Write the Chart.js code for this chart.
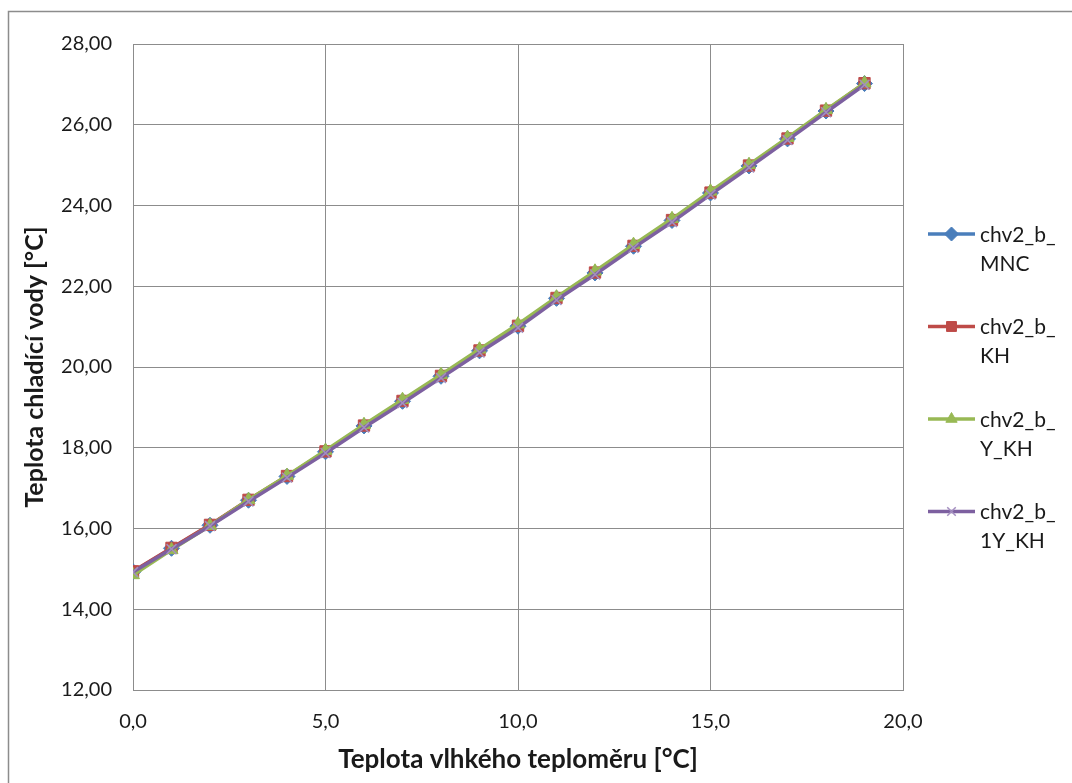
<!DOCTYPE html>
<html>
<head>
<meta charset="utf-8">
<script src="https://cdn.jsdelivr.net/npm/chart.js@4.4.1/dist/chart.umd.min.js"></script>
<style>
  html, body { margin: 0; padding: 0; background: #fff; }
  #wrap { width: 1072px; height: 783px; position: relative; }
</style>
</head>
<body>
<div id="wrap"><canvas id="chart" width="1072" height="783"></canvas></div>
<script>
// Wet-bulb temperature (x) vs. cooling water temperature (y)
const xValues = [0, 1, 2, 3, 4, 5, 6, 7, 8, 9, 10, 11, 12, 13, 14, 15, 16, 17, 18, 19];
const mncValues = [14.93, 15.51, 16.08, 16.70, 17.29, 17.90, 18.54, 19.15, 19.77, 20.40,
                   21.01, 21.70, 22.33, 22.99, 23.63, 24.31, 24.98, 25.65, 26.34, 27.02];
const khValues = [14.94, 15.52, 16.09, 16.71, 17.30, 17.91, 18.55, 19.16, 19.78, 20.41,
                  21.02, 21.71, 22.34, 23.00, 23.64, 24.32, 24.99, 25.66, 26.35, 27.03];
const yKhValues = [14.85, 15.47, 16.07, 16.71, 17.31, 17.93, 18.57, 19.19, 19.81, 20.44,
                   21.06, 21.73, 22.37, 23.03, 23.67, 24.35, 25.01, 25.68, 26.37, 27.03];
const oneYKhValues = [14.92, 15.49, 16.06, 16.67, 17.26, 17.87, 18.50, 19.11, 19.73, 20.36,
                      20.97, 21.66, 22.29, 22.95, 23.59, 24.27, 24.94, 25.62, 26.31, 26.99];
const seriesNames = [['chv2_b_', 'MNC'], ['chv2_b_', 'KH'], ['chv2_b_', 'Y_KH'], ['chv2_b_', '1Y_KH']];
const xTitle = 'Teplota vlhkého teploměru [°C]';
const yTitle = 'Teplota chladící vody [°C]';

const FONT = 'Lato, "Open Sans", sans-serif';
const GRID = '#8c8c8c';
const TEXT = '#1a1a1a';

function pts(ys) {
    return xValues.map((x, i) => ({ x: x, y: ys[i] }));
}

const styles = [
    { color: '#4a7ebb', point: 'rectRot', radius: 8, bw: 1 },
    { color: '#be4b48', point: 'rect', radius: 8, bw: 1 },
    { color: '#98b954', point: 'triangle', radius: 7.5, bw: 1 },
    { color: '#7d60a0', point: 'crossRot', radius: 7, bw: 1.5 }
];
const seriesValues = [mncValues, khValues, yKhValues, oneYKhValues];

const datasets = seriesValues.map((vals, i) => ({
    label: seriesNames[i].join(''),
    data: pts(vals),
    borderColor: styles[i].color,
    backgroundColor: styles[i].color,
    pointStyle: styles[i].point,
    pointRadius: styles[i].radius,
    pointBorderWidth: styles[i].bw,
    pointBorderColor: i === 3 ? '#a48fc0' : styles[i].color,
    borderWidth: 3.5,
    tension: 0,
    order: 3 - i   // later series on top, as in the original
}));

// Frame around the whole chart
const framePlugin = {
    id: 'frame',
    beforeDraw(chart) {
        const ctx = chart.ctx;
        ctx.save();
        ctx.fillStyle = '#fff';
        ctx.fillRect(0, 0, chart.width, chart.height);
        ctx.strokeStyle = GRID;
        ctx.lineWidth = 1.5;
        ctx.strokeRect(8.5, 11.5, chart.width + 10, chart.height + 10);
        ctx.restore();
    }
};

// Legend on the right with two-line labels
const sideLegend = {
    id: 'sideLegend',
    afterDraw(chart) {
        const ctx = chart.ctx;
        const x0 = chart.chartArea.right + 25;
        const x1 = x0 + 47;
        ctx.save();
        chart.data.datasets.forEach((ds, i) => {
            const y = 234 + i * 92.5;
            ctx.strokeStyle = ds.borderColor;
            ctx.lineWidth = 3.5;
            ctx.beginPath();
            ctx.moveTo(x0, y);
            ctx.lineTo(x1, y);
            ctx.stroke();
            ctx.fillStyle = ds.backgroundColor;
            ctx.strokeStyle = ds.pointBorderColor;
            ctx.lineWidth = ds.pointBorderWidth;
            Chart.helpers.drawPoint(ctx, {
                pointStyle: ds.pointStyle, radius: ds.pointRadius - 1, rotation: 0, borderWidth: ds.pointBorderWidth
            }, (x0 + x1) / 2, y);
            ctx.fillStyle = TEXT;
            ctx.font = '21px ' + FONT;
            ctx.textAlign = 'left';
            ctx.textBaseline = 'middle';
            seriesNames[i].forEach((t, k) => ctx.fillText(t, x1 + 5, y + 1 + k * 29));
        });
        ctx.restore();
    }
};

new Chart(document.getElementById('chart'), {
    type: 'line',
    data: { datasets: datasets },
    plugins: [framePlugin, sideLegend],
    options: {
        responsive: false,
        animation: false,
        devicePixelRatio: 1,
        layout: { padding: { left: 0, top: 44, right: 169, bottom: 0 } },
        plugins: {
            legend: { display: false },
            tooltip: { enabled: false }
        },
        scales: {
            x: {
                type: 'linear',
                min: 0,
                max: 20,
                afterFit: s => { s.height = 93; },
                ticks: {
                    stepSize: 5,
                    padding: 20,
                    color: TEXT,
                    font: { family: FONT, size: 20 },
                    callback: v => v.toFixed(1).replace('.', ',')
                },
                grid: { color: GRID, lineWidth: 1, drawTicks: false },
                border: { color: GRID, width: 1 },
                title: {
                    display: true,
                    text: xTitle,
                    color: TEXT,
                    font: { family: FONT, size: 26, weight: 'bold' },
                    padding: { top: 0, bottom: 8 }
                }
            },
            y: {
                min: 12,
                max: 28,
                afterFit: s => { s.width = 133; },
                ticks: {
                    stepSize: 2,
                    padding: 21,
                    color: TEXT,
                    font: { family: FONT, size: 20 },
                    callback: v => v.toFixed(2).replace('.', ',')
                },
                grid: { color: GRID, lineWidth: 1, drawTicks: false },
                border: { color: GRID, width: 1 },
                title: {
                    display: true,
                    text: yTitle,
                    color: TEXT,
                    font: { family: FONT, size: 25, weight: 'bold' },
                    padding: { top: 20, bottom: 0 }
                }
            }
        }
    }
});
</script>
</body>
</html>
